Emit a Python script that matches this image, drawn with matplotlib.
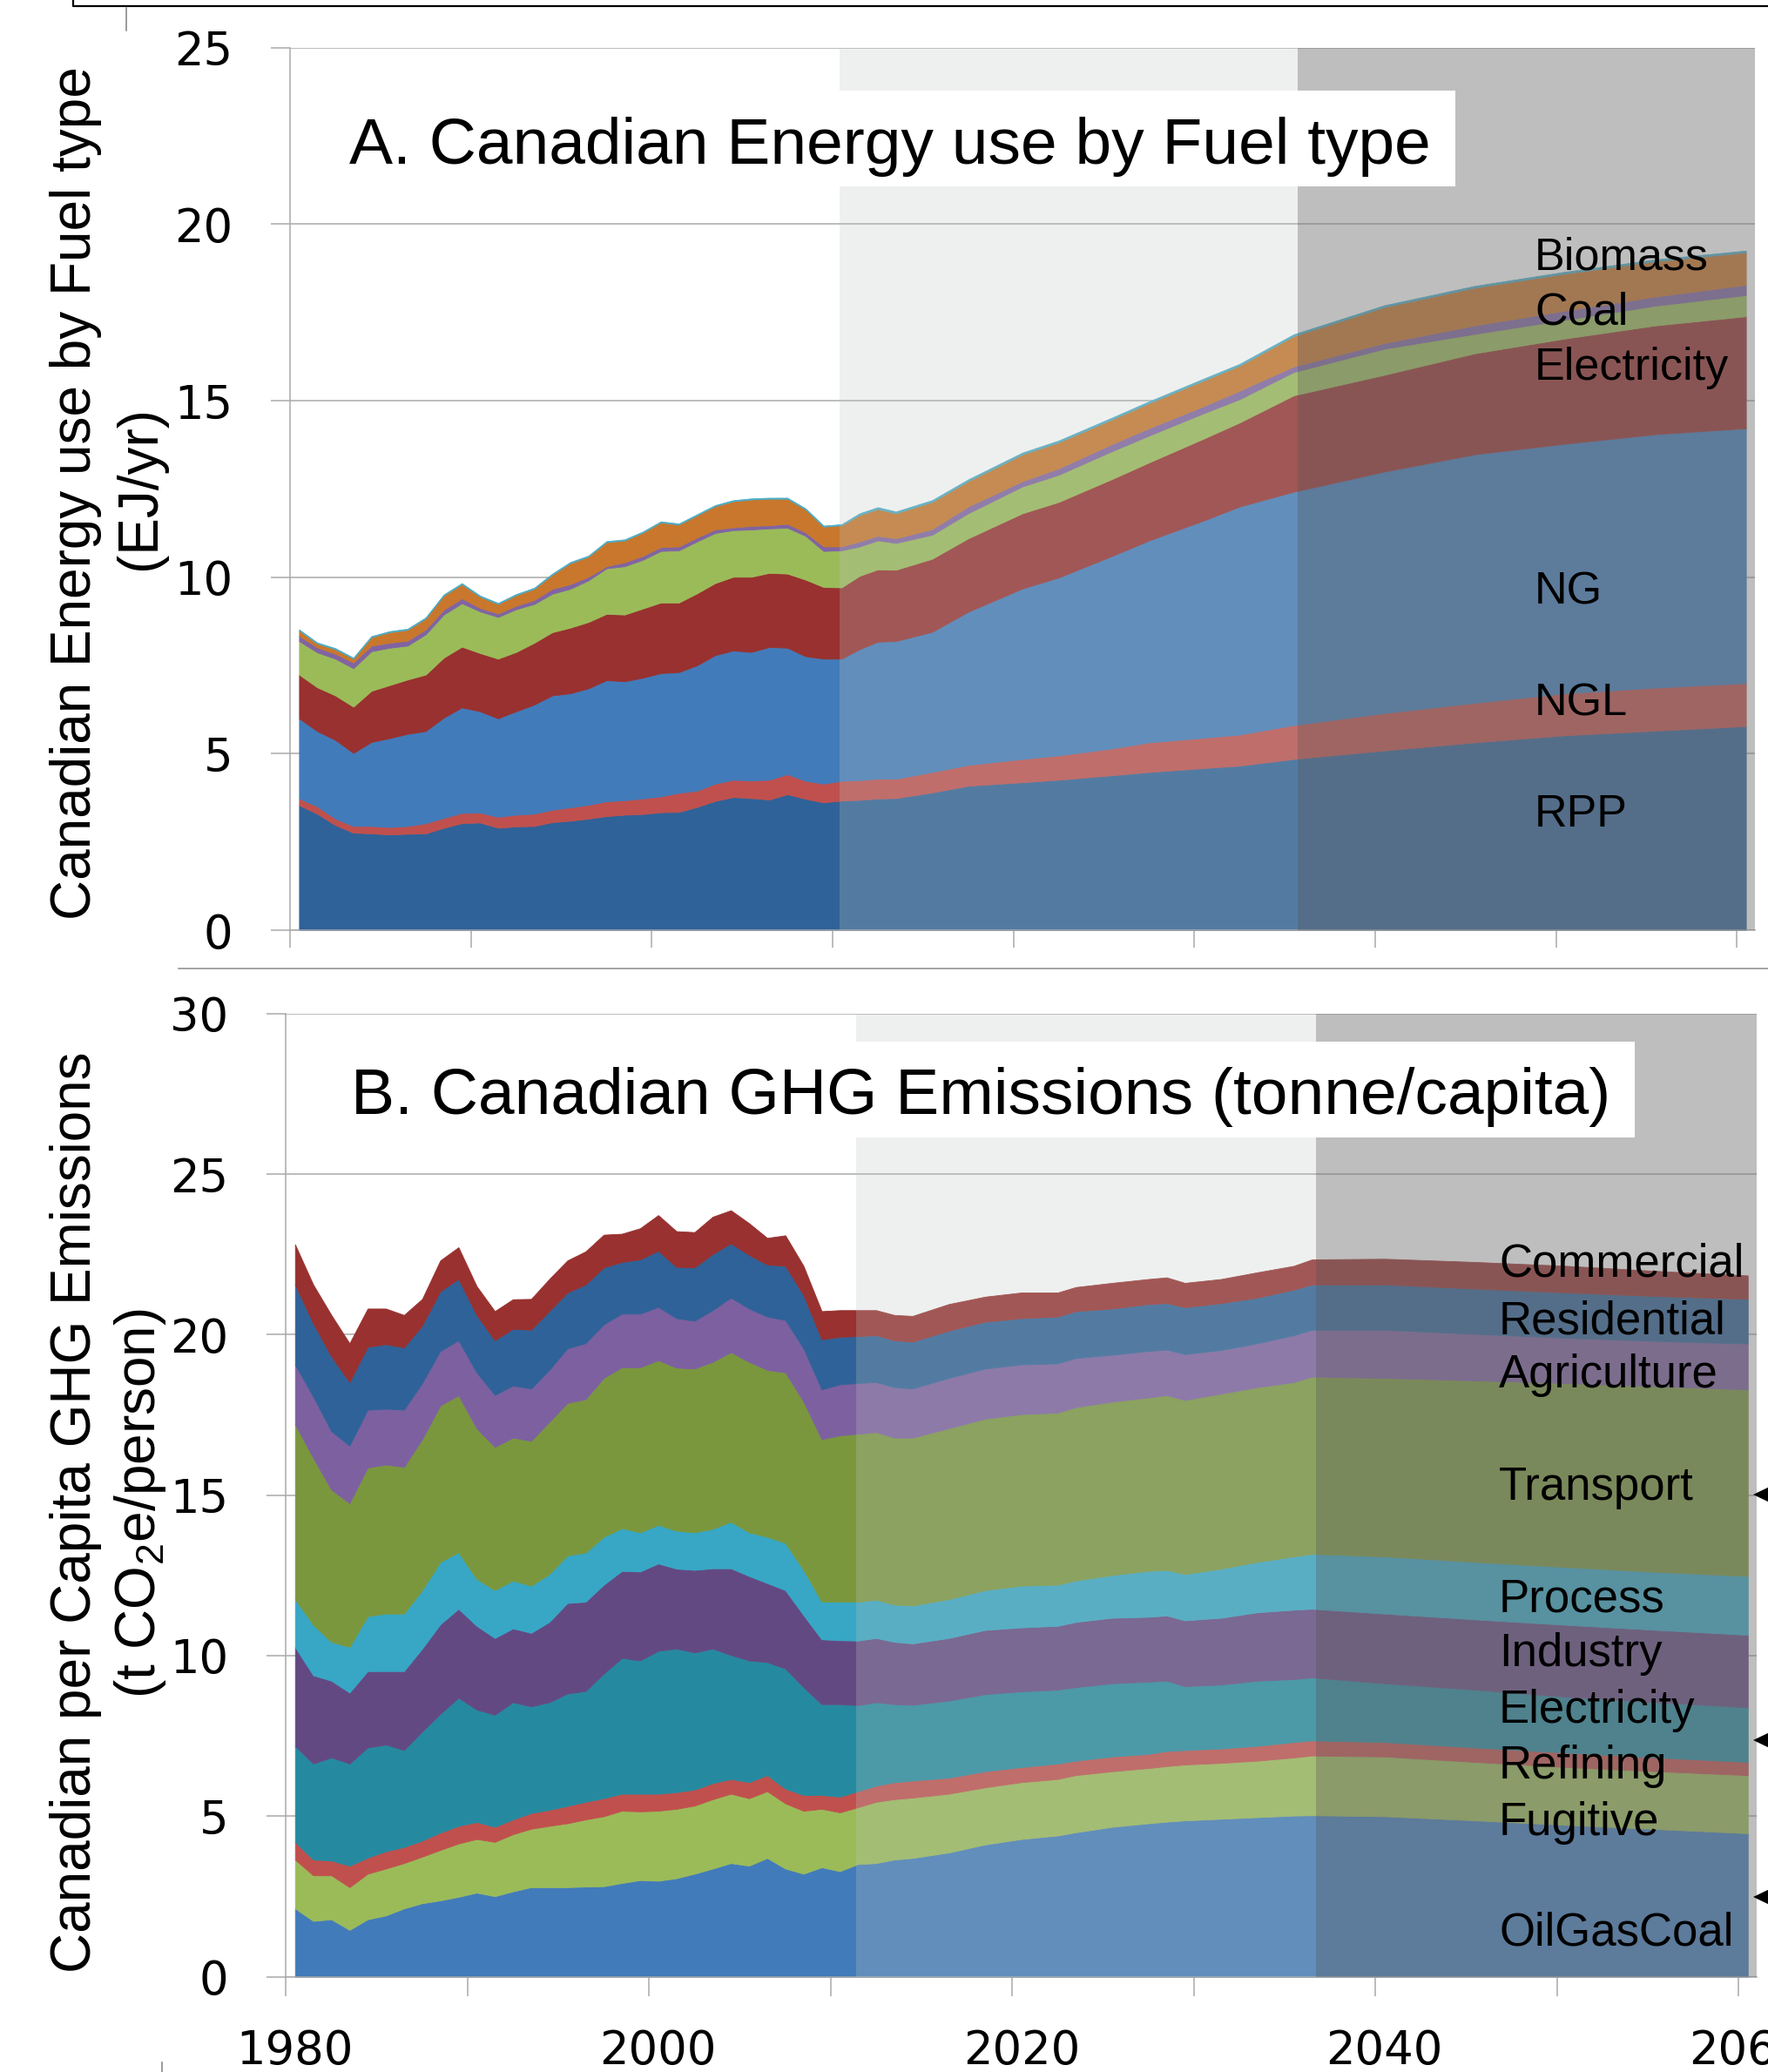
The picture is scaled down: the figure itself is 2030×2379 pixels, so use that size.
import numpy as np
import matplotlib
matplotlib.use("Agg")
import matplotlib.pyplot as plt
from matplotlib.patches import Rectangle, Polygon
from matplotlib.lines import Line2D

plt.rcParams["font.family"] = "DejaVu Sans"
plt.rcParams["mathtext.fontset"] = "custom"
plt.rcParams["mathtext.rm"] = "Liberation Sans"
plt.rcParams["mathtext.it"] = "Liberation Sans:italic"
plt.rcParams["mathtext.default"] = "regular"

# ---------------- panel A : energy use by fuel (EJ/yr) ----------------
years_a = list(range(1980, 2011)) + [2011, 2012, 2013, 2015, 2017, 2020, 2022, 2025,
                                     2027, 2030, 2032, 2035, 2040, 2045, 2050, 2055, 2060]
rpp = [3.54, 3.30, 2.98, 2.76, 2.74, 2.71, 2.73, 2.74, 2.90, 3.03, 3.05, 2.90, 2.94, 2.95, 3.06, 3.10,
       3.16, 3.23, 3.27, 3.29, 3.34, 3.35, 3.49, 3.66, 3.77, 3.74, 3.70, 3.85, 3.72, 3.62, 3.67,
       3.69, 3.73, 3.74, 3.90, 4.09, 4.19, 4.26, 4.39, 4.48, 4.59, 4.66, 4.85, 5.09, 5.32, 5.52, 5.65, 5.78]
ngl = [0.19, 0.21, 0.18, 0.19, 0.21, 0.21, 0.22, 0.29, 0.28, 0.29, 0.28, 0.31, 0.33, 0.35, 0.35, 0.38,
       0.39, 0.42, 0.41, 0.44, 0.45, 0.54, 0.46, 0.49, 0.49, 0.50, 0.56, 0.57, 0.51, 0.53, 0.56,
       0.56, 0.56, 0.55, 0.58, 0.59, 0.66, 0.69, 0.76, 0.84, 0.86, 0.88, 0.96, 1.06, 1.12, 1.19, 1.22, 1.22]
ng = [2.27, 2.13, 2.23, 2.07, 2.38, 2.52, 2.61, 2.61, 2.84, 2.99, 2.87, 2.79, 2.93, 3.09, 3.24, 3.23,
      3.30, 3.43, 3.37, 3.42, 3.49, 3.42, 3.55, 3.64, 3.66, 3.64, 3.76, 3.58, 3.53, 3.54, 3.46,
      3.71, 3.88, 3.90, 3.97, 4.34, 4.83, 5.04, 5.46, 5.72, 6.15, 6.46, 6.61, 6.84, 7.04, 7.07, 7.18, 7.22]
electricity_a = [1.24, 1.24, 1.26, 1.31, 1.45, 1.50, 1.54, 1.60, 1.70, 1.72, 1.65, 1.69, 1.68, 1.75, 1.79, 1.86,
                 1.88, 1.88, 1.89, 1.96, 2.00, 1.97, 2.04, 2.04, 2.09, 2.13, 2.10, 2.10, 2.17, 2.03, 2.02,
                 2.08, 2.05, 2.02, 2.07, 2.08, 2.13, 2.14, 2.18, 2.21, 2.32, 2.38, 2.73, 2.74, 2.86, 2.98, 3.08, 3.17]
coal = [0.95, 0.99, 1.04, 1.09, 1.12, 1.06, 0.96, 1.14, 1.22, 1.23, 1.18, 1.18, 1.21, 1.10, 1.09, 1.10,
        1.18, 1.29, 1.37, 1.38, 1.46, 1.48, 1.47, 1.42, 1.32, 1.34, 1.26, 1.30, 1.24, 1.02, 1.05,
        0.83, 0.82, 0.76, 0.68, 0.71, 0.76, 0.77, 0.79, 0.76, 0.72, 0.66, 0.66, 0.74, 0.55, 0.53, 0.56, 0.60]
other_a = [0.15, 0.14, 0.14, 0.16, 0.16, 0.14, 0.14, 0.14, 0.14, 0.14, 0.10, 0.10, 0.10, 0.11, 0.14, 0.13,
           0.10, 0.06, 0.11, 0.11, 0.11, 0.11, 0.11, 0.10, 0.08, 0.10, 0.09, 0.11, 0.10, 0.13, 0.11,
           0.14, 0.13, 0.13, 0.16, 0.19, 0.15, 0.18, 0.20, 0.21, 0.20, 0.24, 0.16, 0.16, 0.24, 0.26, 0.26, 0.29]
biomass = [0.15, 0.11, 0.13, 0.11, 0.24, 0.30, 0.31, 0.31, 0.40, 0.40, 0.32, 0.27, 0.30, 0.32, 0.40, 0.60,
           0.57, 0.68, 0.62, 0.66, 0.70, 0.62, 0.63, 0.66, 0.74, 0.75, 0.75, 0.71, 0.65, 0.56, 0.60,
           0.75, 0.76, 0.71, 0.77, 0.72, 0.76, 0.74, 0.70, 0.71, 0.73, 0.71, 0.86, 1.02, 1.07, 1.05, 1.00, 0.92]
top_a = [0.03] * 31 + [0.05] * 17

series_a = [rpp, ngl, ng, electricity_a, coal, other_a, biomass, top_a]
colors_a = ["#2F6298", "#C0504D", "#427BBA", "#98312F", "#9BBB59", "#8064A2", "#C8772C", "#4BACC6"]
labels_a = ["Biomass", "Coal", "Electricity", "NG", "NGL", "RPP"]

# ---------------- panel B : GHG emissions per capita (t CO2e/person) ----------------
years_b = list(range(1980, 2012)) + [2012, 2013, 2014, 2016, 2018, 2020, 2022, 2023, 2025, 2027, 2028,
                                     2029, 2031, 2033, 2035, 2036, 2040, 2045, 2050, 2055, 2060]
oilgascoal = [2.13, 1.74, 1.79, 1.46, 1.79, 1.91, 2.13, 2.29, 2.38, 2.49, 2.62, 2.51, 2.66, 2.79, 2.79, 2.79,
              2.81, 2.82, 2.92, 3.01, 2.99, 3.07, 3.21, 3.37, 3.54, 3.46, 3.70, 3.37, 3.21, 3.41, 3.29, 3.51,
              3.54, 3.65, 3.70, 3.87, 4.12, 4.29, 4.40, 4.50, 4.67, 4.78, 4.83, 4.87, 4.92, 4.97, 5.02, 5.03,
              5.00, 4.87, 4.73, 4.60, 4.47]
fugitive = [1.52, 1.42, 1.37, 1.33, 1.42, 1.46, 1.41, 1.45, 1.57, 1.66, 1.67, 1.69, 1.78, 1.82, 1.91, 1.99,
            2.09, 2.18, 2.25, 2.14, 2.18, 2.16, 2.12, 2.16, 2.16, 2.10, 2.08, 2.03, 1.96, 1.82, 1.83, 1.77,
            1.91, 1.88, 1.88, 1.83, 1.78, 1.77, 1.76, 1.78, 1.73, 1.72, 1.73, 1.74, 1.74, 1.76, 1.81, 1.86,
            1.86, 1.82, 1.80, 1.80, 1.81]
refining = [0.55, 0.49, 0.46, 0.67, 0.50, 0.54, 0.50, 0.50, 0.54, 0.55, 0.53, 0.47, 0.46, 0.49, 0.50, 0.54,
            0.55, 0.56, 0.53, 0.55, 0.53, 0.52, 0.50, 0.50, 0.46, 0.50, 0.50, 0.46, 0.49, 0.43, 0.49, 0.50,
            0.50, 0.53, 0.53, 0.50, 0.50, 0.47, 0.48, 0.45, 0.46, 0.44, 0.47, 0.45, 0.45, 0.46, 0.48, 0.47,
            0.45, 0.45, 0.45, 0.43, 0.41]
electricity_b = [2.99, 2.99, 3.21, 3.18, 3.43, 3.32, 3.02, 3.40, 3.70, 3.99, 3.50, 3.49, 3.65, 3.32, 3.35, 3.50,
                 3.45, 3.88, 4.23, 4.15, 4.45, 4.47, 4.27, 4.19, 3.86, 3.79, 3.52, 3.74, 3.36, 2.83, 2.88, 2.68,
                 2.60, 2.43, 2.36, 2.40, 2.40, 2.36, 2.30, 2.29, 2.28, 2.25, 2.19, 1.99, 1.99, 2.03, 1.96, 1.96,
                 1.83, 1.80, 1.74, 1.72, 1.70]
industry = [3.08, 2.75, 2.39, 2.21, 2.38, 2.29, 2.46, 2.58, 2.79, 2.77, 2.61, 2.39, 2.30, 2.29, 2.50, 2.82,
            2.78, 2.77, 2.71, 2.77, 2.72, 2.49, 2.57, 2.50, 2.70, 2.63, 2.46, 2.44, 2.24, 2.02, 1.99, 2.01,
            2.00, 1.94, 1.91, 1.95, 2.00, 1.99, 1.99, 2.03, 2.04, 2.02, 2.03, 2.05, 2.08, 2.13, 2.16, 2.14,
            2.17, 2.19, 2.24, 2.25, 2.26]
process = [1.49, 1.57, 1.21, 1.42, 1.71, 1.79, 1.79, 1.82, 1.94, 1.76, 1.46, 1.49, 1.49, 1.47, 1.49, 1.48,
           1.53, 1.49, 1.33, 1.22, 1.20, 1.18, 1.17, 1.23, 1.45, 1.36, 1.44, 1.47, 1.41, 1.17, 1.20, 1.21,
           1.19, 1.16, 1.18, 1.21, 1.24, 1.30, 1.28, 1.29, 1.33, 1.43, 1.42, 1.44, 1.53, 1.57, 1.66, 1.71,
           1.78, 1.79, 1.80, 1.81, 1.83]
transport = [5.45, 5.20, 4.74, 4.48, 4.63, 4.64, 4.57, 4.70, 4.87, 4.89, 4.69, 4.46, 4.45, 4.51, 4.74, 4.75,
             4.78, 4.95, 5.01, 5.14, 5.13, 5.08, 5.10, 5.20, 5.28, 5.31, 5.20, 5.31, 5.24, 5.06, 5.18, 5.23,
             5.22, 5.20, 5.23, 5.32, 5.34, 5.34, 5.36, 5.40, 5.40, 5.40, 5.44, 5.42, 5.45, 5.44, 5.43, 5.52,
             5.56, 5.65, 5.73, 5.78, 5.81]
agriculture = [1.86, 1.91, 1.82, 1.79, 1.80, 1.74, 1.78, 1.75, 1.70, 1.71, 1.74, 1.62, 1.62, 1.63, 1.62, 1.70,
               1.74, 1.67, 1.67, 1.67, 1.66, 1.54, 1.49, 1.61, 1.70, 1.66, 1.66, 1.63, 1.66, 1.55, 1.59, 1.58,
               1.56, 1.57, 1.53, 1.57, 1.56, 1.55, 1.53, 1.53, 1.46, 1.45, 1.42, 1.43, 1.36, 1.37, 1.46, 1.46,
               1.50, 1.45, 1.41, 1.41, 1.43]
residential = [2.49, 2.28, 2.33, 1.98, 1.96, 2.01, 1.94, 1.79, 1.86, 1.91, 1.79, 1.70, 1.77, 1.83, 1.83, 1.74,
               1.83, 1.77, 1.61, 1.69, 1.75, 1.60, 1.66, 1.75, 1.69, 1.67, 1.62, 1.69, 1.66, 1.56, 1.48, 1.46,
               1.46, 1.46, 1.46, 1.47, 1.46, 1.44, 1.46, 1.46, 1.44, 1.46, 1.45, 1.46, 1.46, 1.42, 1.42, 1.41,
               1.41, 1.41, 1.41, 1.40, 1.39]
commercial = [1.25, 1.21, 1.29, 1.21, 1.19, 1.11, 1.01, 0.83, 0.96, 0.99, 0.90, 0.91, 0.92, 0.96, 1.00, 1.00,
              1.03, 1.02, 0.88, 0.97, 1.11, 1.11, 1.10, 1.16, 1.03, 0.99, 0.83, 0.95, 0.91, 0.88, 0.83, 0.81,
              0.78, 0.79, 0.80, 0.83, 0.78, 0.80, 0.75, 0.75, 0.80, 0.78, 0.80, 0.76, 0.75, 0.79, 0.74, 0.78,
              0.80, 0.83, 0.83, 0.78, 0.73]

series_b = [oilgascoal, fugitive, refining, electricity_b, industry, process, transport,
            agriculture, residential, commercial]
colors_b = ["#427BBA", "#9BBB59", "#C0504D", "#258AA0", "#634982", "#37A7C5", "#7A973E",
            "#7D60A0", "#2F6298", "#98312F"]
labels_b = ["Commercial", "Residential", "Agriculture", "Transport", "Process", "Industry",
            "Electricity", "Refining", "Fugitive", "OilGasCoal"]

# ---------------- layout (pixels of the 2030x2379 canvas) ----------------
W, H, DPI = 2030, 2379, 100
GRID = "#A9A9A9"
LIGHT = (190 / 255, 197 / 255, 194 / 255)
DARK = (123 / 255, 123 / 255, 123 / 255)


def fx(px):
    return px / W


def fy(py):
    return 1 - py / H


fig = plt.figure(figsize=(W / DPI, H / DPI), dpi=DPI)
ax_a = fig.add_axes([fx(333), fy(1068), (2015 - 333) / W, (1068 - 54.7) / H])
ax_b = fig.add_axes([fx(328.3), fy(2269.7), (2017.2 - 328.3) / W, (2269.7 - 1163.6) / H])


def style(ax, ymax, xtick_len):
    ax.set_xlim(1979.5, 2060.5)
    ax.set_ylim(0, ymax)
    ax.set_yticks(range(0, ymax + 1, 5))
    ax.set_xticks(np.arange(1979.5, 2061, 10))
    ax.set_xticklabels([])
    ax.yaxis.grid(True, color=GRID, lw=1.1)
    ax.set_axisbelow(True)
    for s in ["top", "right"]:
        ax.spines[s].set_visible(False)
    for s in ["left", "bottom"]:
        ax.spines[s].set_color(GRID)
        ax.spines[s].set_linewidth(1.1)
    ax.tick_params(axis="y", length=15.8, width=1.1, color=GRID, pad=31.7, labelsize=38)
    ax.tick_params(axis="x", which="major", length=xtick_len, width=1.1, color=GRID)


style(ax_a, 25, 14.4)
style(ax_b, 30, 15.8)

ax_a.stackplot(years_a, *series_a, colors=colors_a, edgecolor="face", linewidth=0.6, zorder=1)
ax_b.stackplot(years_b, *series_b, colors=colors_b, edgecolor="face", linewidth=0.6, zorder=1)

# projection shading
ax_a.axvspan(2009.9, 2035.2, facecolor=LIGHT, alpha=0.26, lw=0, zorder=3)
ax_a.axvspan(2035.2, 2060.5, facecolor=DARK, alpha=0.49, lw=0, zorder=3)
ax_b.axvspan(2010.9, 2036.2, facecolor=LIGHT, alpha=0.26, lw=0, zorder=3)
ax_b.axvspan(2036.2, 2060.5, facecolor=DARK, alpha=0.49, lw=0, zorder=3)

# year labels under panel B
ax_b.set_xticks([1980, 2000, 2020, 2040, 2060], minor=True)
ax_b.set_xticklabels(["1980", "2000", "2020", "2040", "2060"], minor=True)
ax_b.tick_params(axis="x", which="minor", length=0, pad=43, labelsize=38)

# title boxes
fig.add_artist(Rectangle((fx(366), fy(214)), (1671 - 366) / W, 110 / H, transform=fig.transFigure,
                         facecolor="white", edgecolor="none", zorder=5))
fig.text(fx(401), fy(188), "A. Canadian Energy use by Fuel type", family="Liberation Sans",
         size=54, ha="left", va="baseline", zorder=6)
fig.add_artist(Rectangle((fx(366), fy(1306)), (1877 - 366) / W, 110 / H, transform=fig.transFigure,
                         facecolor="white", edgecolor="none", zorder=5))
fig.text(fx(402.6), fy(1279.5), "B. Canadian GHG Emissions (tonne/capita)", family="Liberation Sans",
         size=54, ha="left", va="baseline", zorder=6)

# y axis titles
ylab = dict(rotation=90, rotation_mode="anchor", ha="center", va="baseline",
            family="Liberation Sans", size=46)
fig.text(fx(103.6), fy(566.5), "Canadian Energy use by Fuel type", **ylab)
fig.text(fx(177.6), fy(559.5), "(EJ/yr)", **ylab)
fig.text(fx(103.6), fy(1736), "Canadian per Capita GHG Emissions", **ylab)
fig.text(fx(177.6), fy(1726), "(t CO$_2$e/person)", **ylab)

# series names at the right side
base_a = [309.4, 372.7, 436, 693.5, 821.7, 949.4]
for name, py in zip(labels_a, base_a):
    fig.text(fx(1762), fy(py), name, family="Liberation Sans", size=37.5, va="baseline", zorder=7)
base_b = [1466, 1531, 1593, 1722, 1850.5, 1913, 1978, 2042, 2106.5, 2234]
for name, py in zip(labels_b, base_b):
    fig.text(fx(1721), fy(py), name, family="Liberation Sans", size=38, va="baseline", zorder=7)

# small arrow heads cut by the right edge
for py in [1716, 1998, 2178]:
    fig.add_artist(Polygon([(fx(2013), fy(py)), (fx(2036), fy(py - 11)), (fx(2036), fy(py + 11))],
                           closed=True, transform=fig.transFigure, facecolor="black",
                           edgecolor="none", zorder=8))

# frame fragments
fig.add_artist(Line2D([fx(84), fx(84), fx(2030)], [fy(0), fy(7), fy(7)], transform=fig.transFigure,
                      color="black", lw=1.6))
fig.add_artist(Line2D([fx(145), fx(145)], [fy(9), fy(35)], transform=fig.transFigure,
                      color="#8A8A8A", lw=1.2))
fig.add_artist(Line2D([fx(205), fx(2030)], [fy(1112), fy(1112)], transform=fig.transFigure,
                      color="#8A8A8A", lw=1.1))
fig.add_artist(Line2D([fx(186), fx(186)], [fy(2368), fy(2379)], transform=fig.transFigure,
                      color="#8A8A8A", lw=1.2))

fig.savefig("out.png", dpi=DPI)
